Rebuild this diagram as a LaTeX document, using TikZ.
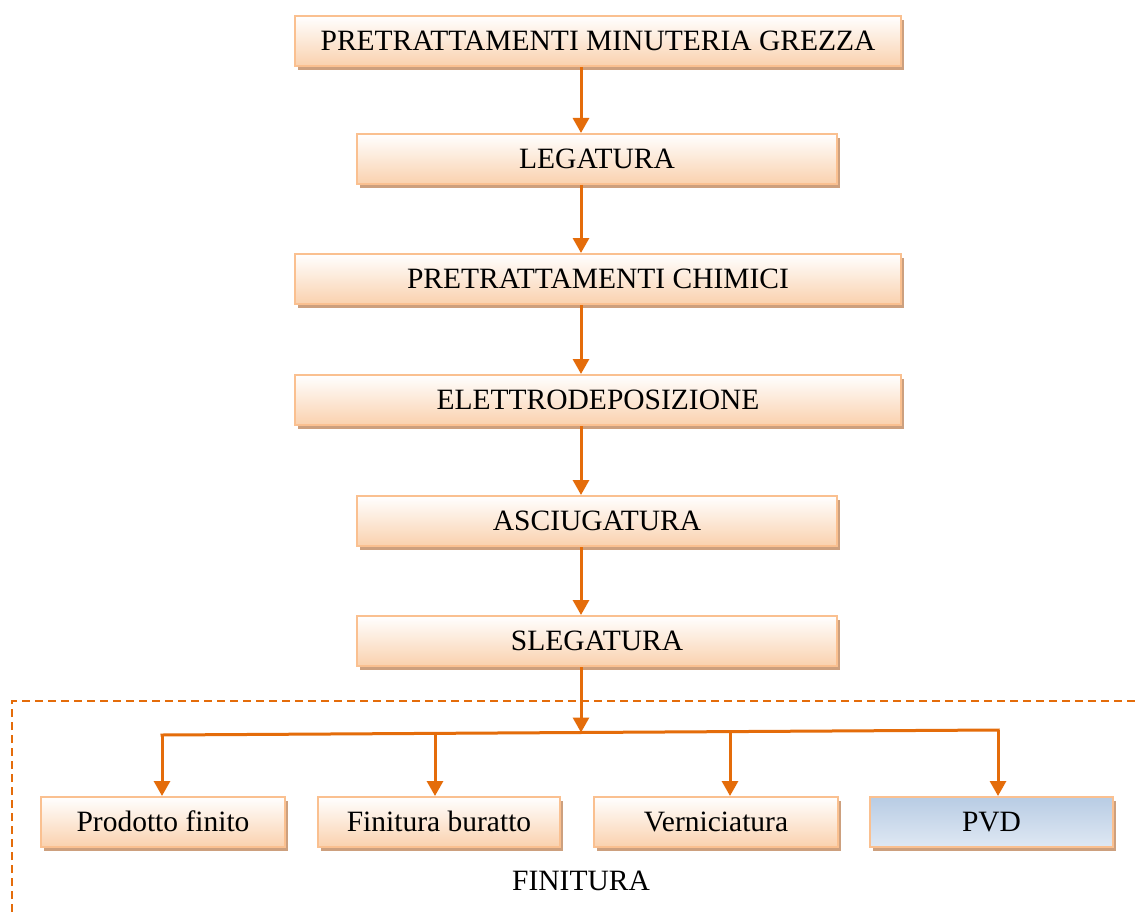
\documentclass[tikz,border=0pt]{standalone}
\usepackage{fontspec}
\setmainfont{Liberation Serif}
\usetikzlibrary{arrows.meta,shadows}
\definecolor{arrowc}{HTML}{E46C0A}
\definecolor{edgec}{HTML}{FAC090}
\definecolor{peach}{HTML}{FAD1AE}
\definecolor{shadowc}{HTML}{CDA07E}
\definecolor{bluetop}{HTML}{B8CCE4}
\definecolor{bluebot}{HTML}{DFE8F3}
\tikzset{
  box/.style={rectangle, draw=edgec, line width=2pt, top color=white, bottom color=peach,
    minimum height=50pt, inner sep=0pt, text depth=1pt, font=\fontsize{29.5}{34}\selectfont,
    drop shadow={shadow xshift=3pt, shadow yshift=-4pt, fill=shadowc, opacity=1}},
  bluebox/.style={box, top color=bluetop, bottom color=bluebot},
  flow/.style={draw=arrowc, line width=3pt, -{Triangle[width=16pt,length=15pt]}},
  branch/.style={draw=arrowc, line width=3pt, line cap=rect},
  frame/.style={draw=arrowc, line width=2pt, dash pattern=on 8pt off 5pt},
  label/.style={font=\fontsize{29.5}{34}\selectfont, inner sep=0pt},
}
\begin{document}
\begin{tikzpicture}[x=1pt,y=-1pt]
\fill[white] (0,0) rectangle (1137,912);
\path[use as bounding box] (0,0) rectangle (1137,912);

% dashed finishing region
\draw[frame] (12,912) -- (12,701) -- (1137,701);

% main chain
\node[box, minimum width=606pt] (a) at (598,41) {PRETRATTAMENTI MINUTERIA GREZZA};
\node[box, minimum width=480pt] (b) at (597,159) {LEGATURA};
\node[box, minimum width=606pt] (c) at (598,279) {PRETRATTAMENTI CHIMICI};
\node[box, minimum width=606pt] (d) at (598,400) {ELETTRODEPOSIZIONE};
\node[box, minimum width=480pt] (e) at (597,521) {ASCIUGATURA};
\node[box, minimum width=480pt] (f) at (597,641) {SLEGATURA};

% finishing options
\node[box, minimum width=244pt] (p1) at (163,822) {Prodotto finito};
\node[box, minimum width=242pt] (p2) at (439,822) {Finitura buratto};
\node[box, minimum width=244pt] (p3) at (716,822) {Verniciatura};
\node[bluebox, minimum width=243pt] (p4) at (991.5,822) {PVD};

\node[label] (fin) at (581,881) {FINITURA};

% spine arrows
\coordinate (sp) at (581,0);
\draw[flow] (sp |- a.south) -- (sp |- b.north);
\draw[flow] (sp |- b.south) -- (sp |- c.north);
\draw[flow] (sp |- c.south) -- (sp |- d.north);
\draw[flow] (sp |- d.south) -- (sp |- e.north);
\draw[flow] (sp |- e.south) -- (sp |- f.north);

% branching
\coordinate (b1) at (162,735);
\coordinate (b2) at (435,733.4);
\coordinate (bs) at (581,732.5);
\coordinate (b3) at (730,731.6);
\coordinate (b4) at (998,730);
\draw[branch] (b1) -- (b4);
\draw[flow] (sp |- f.south) -- (bs);
\draw[flow] (b1) -- (b1 |- p1.north);
\draw[flow] (b2) -- (b2 |- p2.north);
\draw[flow] (b3) -- (b3 |- p3.north);
\draw[flow] (b4) -- (b4 |- p4.north);
\end{tikzpicture}
\end{document}
